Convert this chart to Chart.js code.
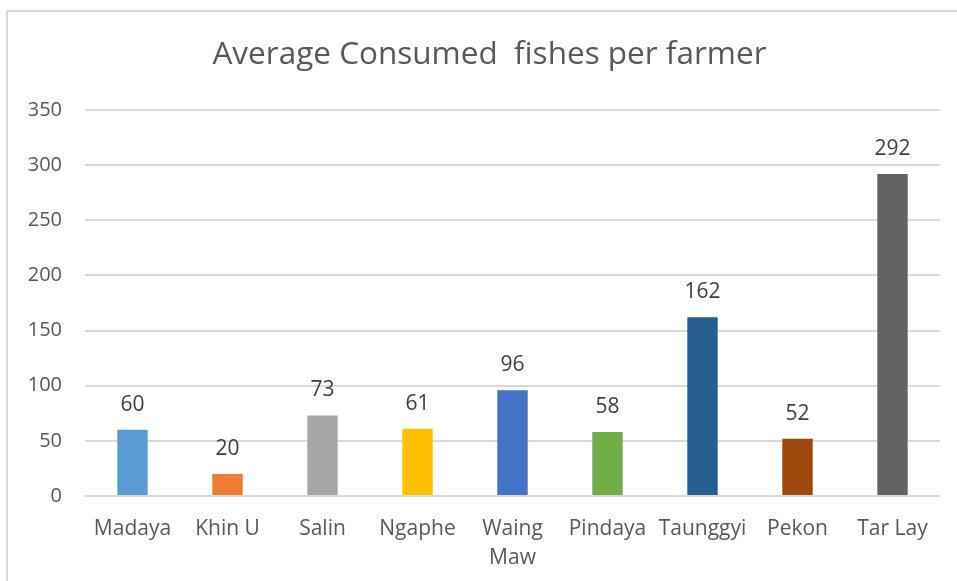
<!DOCTYPE html>
<html>
<head>
<meta charset="utf-8">
<script src="https://cdn.jsdelivr.net/npm/chart.js@4/dist/chart.umd.min.js"></script>
<style>
  html, body { margin: 0; padding: 0; background: #fff; overflow: hidden; }
  #frame { position: absolute; left: 6px; top: 10px; width: 1000px; height: 640px; border: 2px solid #d9d9d9; box-sizing: border-box; }
  #wrap { position: absolute; left: 0; top: 0; width: 957px; height: 581px; }
</style>
</head>
<body>
<div id="frame"></div>
<div id="wrap"><canvas id="c" width="957" height="581"></canvas></div>
<script>
const categories = ["Madaya", "Khin U", "Salin", "Ngaphe", ["Waing", "Maw"], "Pindaya", "Taunggyi", "Pekon", "Tar Lay"];
const values = [60, 20, 73, 61, 96, 58, 162, 52, 292];
const barColors = ["#5B9BD5", "#ED7D31", "#A5A5A5", "#FFC000", "#4472C4", "#70AD47", "#255E91", "#9E480E", "#636363"];
const yTicks = [0, 50, 100, 150, 200, 250, 300, 350];
const chartTitle = "Average Consumed  fishes per farmer";

const FONT = "'Open Sans', 'Noto Sans', sans-serif";
const TEXT = "#595959";

const valueLabels = {
  id: "valueLabels",
  afterDatasetsDraw(chart) {
    const ctx = chart.ctx;
    const meta = chart.getDatasetMeta(0);
    ctx.save();
    ctx.font = "21px " + FONT;
    ctx.fillStyle = "#404040";
    ctx.textAlign = "center";
    ctx.textBaseline = "alphabetic";
    meta.data.forEach((bar, i) => {
      ctx.fillText(String(values[i]), bar.x, bar.y - 19);
    });
    ctx.restore();
  }
};

const titleDraw = {
  id: "titleDraw",
  afterDraw(chart) {
    const ctx = chart.ctx;
    ctx.save();
    ctx.font = "31.5px " + FONT;
    ctx.fillStyle = TEXT;
    ctx.textAlign = "center";
    ctx.textBaseline = "alphabetic";
    const cx = chart.width / 2 + 11;
    ctx.fillText(chartTitle, cx, 64);
    ctx.restore();
  }
};

new Chart(document.getElementById("c"), {
  type: "bar",
  data: {
    labels: categories,
    datasets: [{
      data: values,
      backgroundColor: barColors,
      borderWidth: 0,
      barPercentage: 0.32,
      categoryPercentage: 1.0
    }]
  },
  options: {
    responsive: false,
    animation: false,
    devicePixelRatio: 1,
    layout: { padding: { left: 0, right: 17, top: 110, bottom: 0 } },
    plugins: {
      legend: { display: false },
      tooltip: { enabled: false },
      title: { display: false }
    },
    scales: {
      x: {
        afterFit(scale) { scale.height = 85; },
        grid: { display: false, drawTicks: false },
        border: { display: false },
        ticks: {
          color: TEXT,
          font: { family: FONT, size: 21, lineHeight: 1.4 },
          padding: 18,
          maxRotation: 0,
          autoSkip: false
        }
      },
      y: {
        min: 0,
        max: 350,
        afterFit(scale) { scale.width = 85; },
        afterBuildTicks(scale) { scale.ticks = yTicks.map(v => ({ value: v })); },
        grid: { color: "#d9d9d9", lineWidth: 2, drawTicks: false },
        border: { display: false },
        ticks: {
          color: TEXT,
          font: { family: FONT, size: 20 },
          padding: 23
        }
      }
    }
  },
  plugins: [valueLabels, titleDraw]
});
</script>
</body>
</html>
